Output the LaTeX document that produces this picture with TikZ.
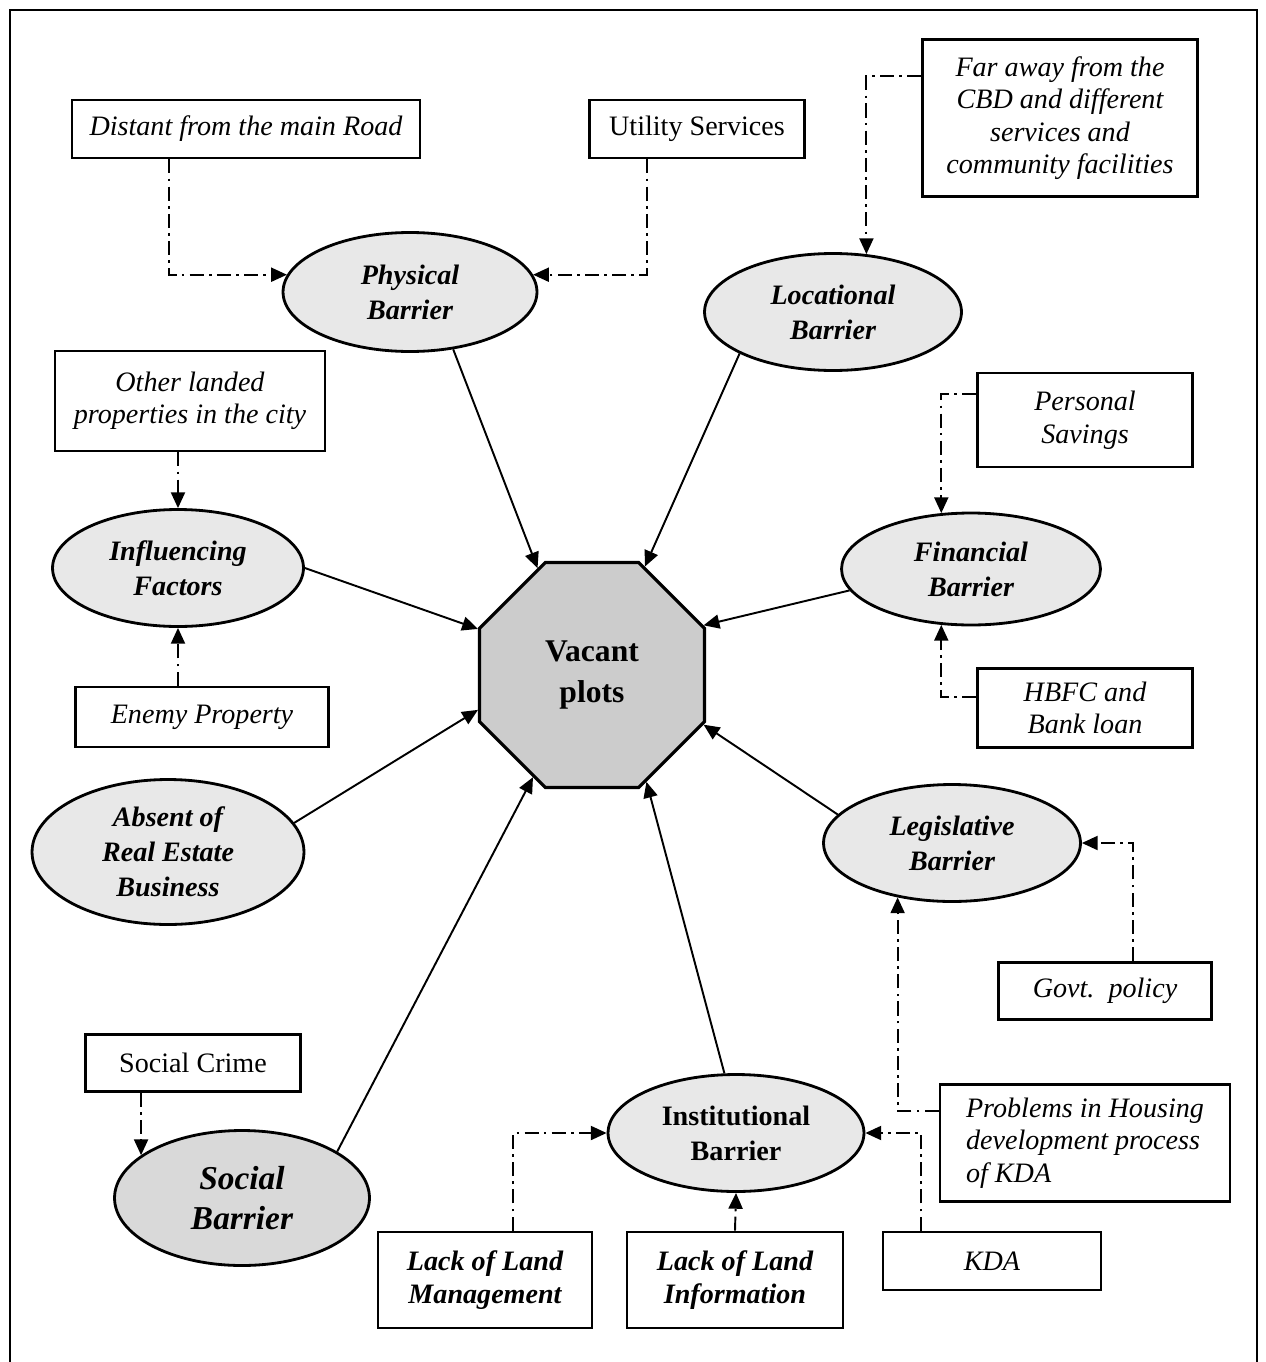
\documentclass[tikz,border=0pt]{standalone}
\usepackage{fontspec}
\setmainfont{Liberation Serif}
\usetikzlibrary{shapes.geometric,arrows.meta,calc}

\begin{document}
\begin{tikzpicture}[x=0.02cm,y=-0.02cm,
    >={Triangle[length=9pt,width=8pt]},
    barrier node/.style={ellipse,draw,line width=1.6pt,fill=gray!18,inner sep=0pt,
        align=center,font=\fontsize{16}{20}\selectfont\bfseries\itshape},
    factor box/.style={rectangle,draw,line width=1.6pt,fill=white,inner sep=2pt,
        align=center,font=\fontsize{16}{18.5}\selectfont\itshape},
    vacant node/.style={regular polygon,regular polygon sides=8,draw,line width=1.8pt,
        fill=gray!40,minimum size=4.87cm,inner sep=0pt,align=center,
        font=\fontsize{18}{23}\selectfont\bfseries},
    main link/.style={->,line width=1.1pt},
    dash link/.style={->,line width=1.1pt,dash pattern=on 8pt off 3pt on 1.5pt off 3pt}]

       \useasboundingbox (0,0) rectangle (1266,1362);
       \draw[line width=1.6pt] (10,1362) -- (10,10) -- (1257,10) -- (1257,1362);

       % barriers round the centre
       \node[vacant node] (vp) at (592,675) {Vacant\\plots};
       \node[barrier node,minimum width=5.08cm,minimum height=2.38cm] (phys) at (410,292) {Physical\\Barrier};
       \node[barrier node,minimum width=5.14cm,minimum height=2.34cm] (loc) at (833,312) {Locational\\Barrier};
       \node[barrier node,minimum width=5.02cm,minimum height=2.34cm] (infl) at (178,568) {Influencing\\Factors};
       \node[barrier node,minimum width=5.44cm,minimum height=2.9cm] (absent) at (168,852) {Absent of\\Real Estate\\Business};
       \node[barrier node,minimum width=5.18cm,minimum height=2.24cm] (fin) at (971,569) {Financial\\Barrier};
       \node[barrier node,minimum width=5.14cm,minimum height=2.34cm] (leg) at (952,843) {Legislative\\Barrier};
       \node[barrier node,fill=gray!30,font=\fontsize{19}{23}\selectfont\bfseries\itshape,
             minimum width=5.1cm,minimum height=2.7cm] (soc) at (242,1198) {Social\\Barrier};
       \node[barrier node,font=\fontsize{16}{20}\selectfont\bfseries,
             minimum width=5.12cm,minimum height=2.34cm] (inst) at (736,1133) {Institutional\\Barrier};

       % causes
       \node[factor box,minimum width=6.96cm,minimum height=1.16cm] (road) at (246,129) {Distant from the main Road};
       \node[factor box,font=\fontsize{16}{18.5}\selectfont,minimum width=4.3cm,minimum height=1.16cm] (util) at (697,129) {Utility Services};
       \node[factor box,minimum width=5.5cm,minimum height=3.14cm] (cbd) at (1060,118) {Far away from the\\CBD and different\\services and\\community facilities};
       \node[factor box,minimum width=5.4cm,minimum height=2cm] (other) at (190,401) {Other landed\\properties in the city};
       \node[factor box,minimum width=5.06cm,minimum height=1.2cm] (enemy) at (202,717) {Enemy Property};
       \node[factor box,minimum width=4.3cm,minimum height=1.88cm] (save) at (1085,420) {Personal\\Savings};
       \node[factor box,minimum width=4.3cm,minimum height=1.58cm] (loan) at (1085,708) {HBFC and\\Bank loan};
       \node[factor box,minimum width=4.26cm,minimum height=1.14cm] (govt) at (1105,991) {Govt.\ \ policy};
       \node[factor box,align=left,minimum width=5.8cm,minimum height=2.34cm] (kdaproc) at (1085,1143) {Problems in Housing\\development process\\of KDA};
       \node[factor box,font=\fontsize{16}{18.5}\selectfont,minimum width=4.3cm,minimum height=1.14cm] (crime) at (193,1063) {Social Crime};
       \node[factor box,font=\fontsize{16}{18.5}\selectfont\bfseries\itshape,minimum width=4.28cm,minimum height=1.92cm] (mgmt) at (485,1280) {Lack of Land\\Management};
       \node[factor box,font=\fontsize{16}{18.5}\selectfont\bfseries\itshape,minimum width=4.32cm,minimum height=1.92cm] (info) at (735,1280) {Lack of Land\\Information};
       \node[factor box,minimum width=4.36cm,minimum height=1.16cm] (kda) at (992,1261) {KDA};

       \draw[dash link] ($(road.south west)!0.28!(road.south east)$) |- (phys.172);
       \draw[dash link] ($(util.south west)!0.27!(util.south east)$) |- (phys.8);
       \draw[dash link] ($(cbd.north west)!0.24!(cbd.south west)$) -| (loc.60);
       \draw[dash link] (other.south -| infl.north) -- (infl.north);
       \draw[dash link] (enemy.north -| infl.south) -- (infl.south);
       \draw[dash link] ($(save.north west)!0.23!(save.south west)$) -| (fin.118);
       \draw[dash link] ($(loan.north west)!0.36!(loan.south west)$) -| (fin.242);
       \draw[dash link] ($(govt.north west)!0.63!(govt.north east)$) |- (leg.east);
       \draw[dash link] ($(kdaproc.north west)!0.23!(kdaproc.south west)$) -| (leg.225);
       \draw[dash link] (crime.south -| soc.157) -- (soc.157);
       \draw[dash link] ($(mgmt.north west)!0.63!(mgmt.north east)$) |- (inst.west);
       \draw[dash link] (info.north) -- (inst.south);
       \draw[dash link] ($(kda.north west)!0.18!(kda.north east)$) |- (inst.east);

       \path[main link]
         (phys.307) edge (vp.117)
         (loc.204) edge (vp.64)
         (infl.east) edge (vp.158)
         (fin.190) edge (vp.24)
         (absent.13) edge (vp.197)
         (leg.166) edge (vp.336)
         (soc.26) edge (vp.240)
         (inst.101) edge (vp.297);

\end{tikzpicture}
\end{document}
